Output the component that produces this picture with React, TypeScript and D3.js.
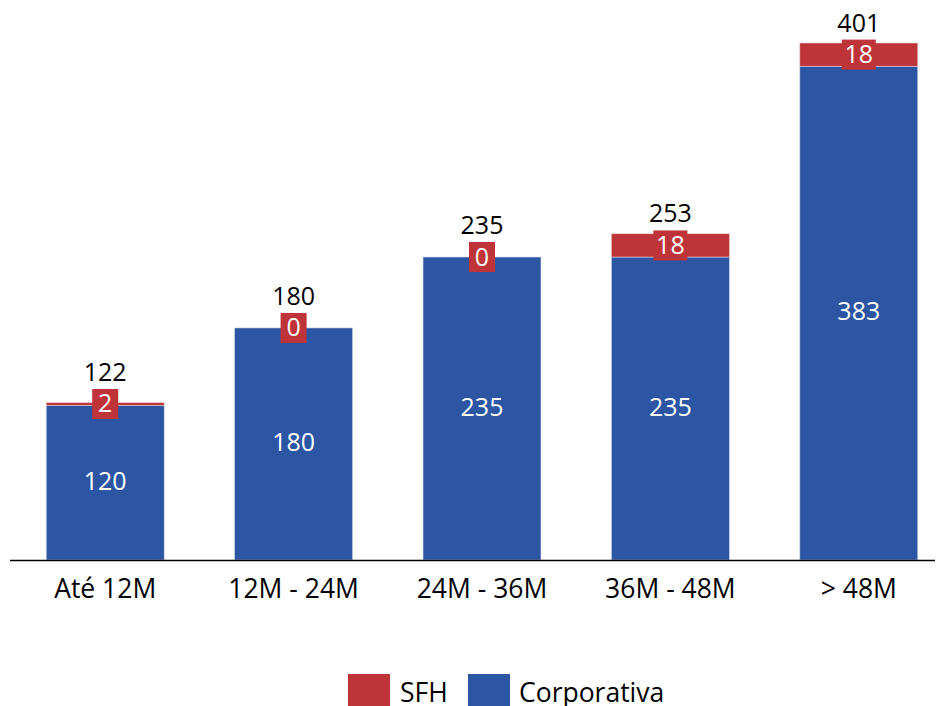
import React from "react";
import * as d3 from "d3";

const categories = ["Até 12M", "12M - 24M", "24M - 36M", "36M - 48M", "> 48M"];
const corporativa = [120, 180, 235, 235, 383];
const sfh = [2, 0, 0, 18, 18];
const totals = [122, 180, 235, 253, 401];

const RED = "#BE3439";
const BLUE = "#2C55A3";
const FONT = "'Open Sans', sans-serif";
const FS_NUM = 25;
const FS_TXT = 26.5;

export default function App() {
  const W = 943, H = 706;
  const x = d3.scaleBand<string>().domain(categories).range([11, 953]).paddingInner(0.374).paddingOuter(0.187);
  const y = d3.scaleLinear().domain([0, 401]).range([560, 43]);
  const bw = x.bandwidth();
  return (
    <svg width={W} height={H} style={{ position: "absolute", left: 0, top: 0, fontFamily: FONT }}>
      {categories.map((c, i) => {
        const x0 = x(c)!;
        const cx = x0 + bw / 2;
        const yCorpTop = y(corporativa[i]);
        const yTop = y(corporativa[i] + sfh[i]);
        const sfhMid = (yCorpTop + yTop) / 2;
        const sfhLabel = String(sfh[i]);
        const boxW = sfhLabel.length === 1 ? 26 : 34;
        const boxH = 30;
        return (
          <g key={c}>
            <rect x={x0} y={yCorpTop} width={bw} height={y(0) - yCorpTop} fill={BLUE} stroke="#d0d8ea" strokeWidth={0.6} />
            {sfh[i] > 0 && (
              <rect x={x0} y={yTop} width={bw} height={yCorpTop - yTop} fill={RED} stroke="#e8c8c8" strokeWidth={0.6} />
            )}
            <text x={cx} y={(yCorpTop + y(0)) / 2 + 7} textAnchor="middle" fill="#fff" fontSize={FS_NUM}>
              {corporativa[i]}
            </text>
            <rect x={cx - boxW / 2} y={sfhMid - boxH / 2} width={boxW} height={boxH} fill={RED} />
            <text x={cx} y={sfhMid + 8.5} textAnchor="middle" fill="#fff" fontSize={FS_NUM}>
              {sfhLabel}
            </text>
            <text x={cx} y={sfhMid - boxH / 2 - 8} textAnchor="middle" fill="#000" fontSize={FS_NUM}>
              {totals[i]}
            </text>
            <text x={cx} y={598} textAnchor="middle" fill="#000" fontSize={FS_TXT}>
              {c}
            </text>
          </g>
        );
      })}
      <line x1={10} x2={935} y1={560.5} y2={560.5} stroke="#000" strokeWidth={1.3} />
      <rect x={348} y={674} width={42} height={32} fill={RED} />
      <text x={400} y={702} fill="#000" fontSize={FS_TXT}>SFH</text>
      <rect x={468} y={674} width={42} height={32} fill={BLUE} />
      <text x={519} y={702} fill="#000" fontSize={FS_TXT}>Corporativa</text>
    </svg>
  );
}
